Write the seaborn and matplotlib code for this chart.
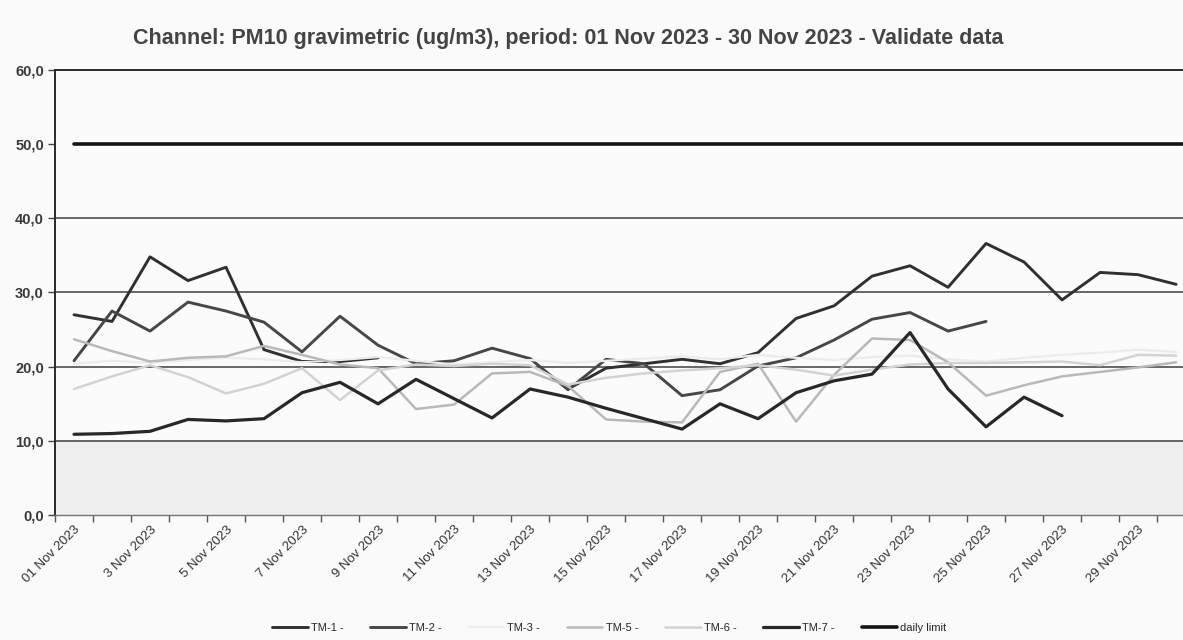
import matplotlib
matplotlib.use("Agg")
import matplotlib.pyplot as plt
import seaborn as sns
import pandas as pd
import numpy as np
from matplotlib.lines import Line2D

nan = np.nan

# one value per day, 01..30 Nov 2023
days = list(range(1, 31))
tm1 = [27.0, 26.1, 34.8, 31.6, 33.4, 22.3, 20.7, 20.7, 21.2, nan,
       nan, nan, nan, 17.0, 19.8, 20.4, 21.0, 20.4, 21.9, 26.5,
       28.2, 32.2, 33.6, 30.7, 36.6, 34.1, 29.0, 32.7, 32.4, 31.1]
tm2 = [20.8, 27.5, 24.8, 28.7, 27.5, 26.0, 22.0, 26.8, 22.9, 20.4,
       20.8, 22.5, 21.1, 16.9, 21.0, 20.4, 16.1, 16.9, 20.1, 21.2,
       23.6, 26.4, 27.3, 24.8, 26.1, nan, nan, nan, nan, nan]
tm3 = [20.4, 20.8, 20.5, 20.9, 21.2, 21.0, 20.6, 20.9, 21.3, 20.8,
       20.3, 20.6, 20.9, 20.5, 20.8, 21.1, 21.4, 21.0, 21.6, 21.2,
       20.9, 21.3, 21.5, 21.0, 20.7, 21.2, 21.6, 21.9, 22.3, 22.0]
tm5 = [23.7, 22.1, 20.7, 21.2, 21.4, 22.8, 21.6, 20.3, 19.8, 14.3,
       14.9, 19.1, 19.3, 17.4, 12.9, 12.6, 12.5, 19.3, 20.4, 12.6,
       18.9, 23.8, 23.6, 20.6, 16.1, 17.5, 18.7, 19.3, 19.9, 20.6]
tm6 = [17.0, 18.7, 20.2, 18.6, 16.4, 17.7, 19.8, 15.5, 19.5, 20.3,
       20.1, 20.4, 20.2, 17.6, 18.5, 19.1, 19.5, 19.8, 20.2, 19.6,
       18.8, 19.6, 20.3, 20.5, 20.5, 20.6, 20.7, 20.2, 21.6, 21.5]
tm7 = [10.9, 11.0, 11.3, 12.9, 12.7, 13.0, 16.5, 17.9, 15.0, 18.3,
       15.7, 13.1, 17.0, 15.9, 14.4, 13.0, 11.6, 15.0, 13.0, 16.5,
       18.1, 19.0, 24.6, 17.0, 11.9, 15.9, 13.4, nan, nan, nan]
daily_limit = 50.0

tick_labels = ["01 Nov 2023", "3 Nov 2023", "5 Nov 2023", "7 Nov 2023",
               "9 Nov 2023", "11 Nov 2023", "13 Nov 2023", "15 Nov 2023",
               "17 Nov 2023", "19 Nov 2023", "21 Nov 2023", "23 Nov 2023",
               "25 Nov 2023", "27 Nov 2023", "29 Nov 2023"]

series = [
    ("TM-1 -", tm1, "#303030", 2.1),
    ("TM-2 -", tm2, "#474747", 2.1),
    ("TM-3 -", tm3, "#ececec", 1.6),
    ("TM-5 -", tm5, "#b9b9b9", 1.8),
    ("TM-6 -", tm6, "#d3d3d3", 1.8),
    ("TM-7 -", tm7, "#282828", 2.3),
]

sns.set_theme(style="white")
plt.rcParams["font.family"] = ["Liberation Sans", "DejaVu Sans"]

fig = plt.figure(figsize=(11.83, 6.4), dpi=100)
fig.patch.set_facecolor("#fafafa")
ax = fig.add_axes([0.0465, 0.195, 0.9637, 0.696])
ax.set_facecolor("#fbfbfb")

x = np.arange(len(days))


def draw_series(ax, vals, color, lw, z):
    # split at missing days so the gaps stay open
    s = pd.Series(vals, index=x, dtype=float)
    run_id = s.isna().cumsum()
    for _, seg in s[s.notna()].groupby(run_id[s.notna()]):
        if len(seg) > 1:
            sns.lineplot(x=seg.index.values, y=seg.values, color=color,
                         lw=lw, ax=ax, legend=False, zorder=z)


# light band under 10 like the scan
ax.axhspan(0, 10, color="#efefef", zorder=0)
for g in [10, 20, 30, 40]:
    ax.axhline(g, color="#4d4d4d", lw=1.2, zorder=1)

order = [4, 3, 2, 5, 1, 0]
for i in order:
    name, vals, col, lw = series[i]
    draw_series(ax, vals, col, lw, 3 + i)

# limit runs from the first day out past the right edge
limit_x = np.append(x, len(days))
sns.lineplot(x=limit_x, y=[daily_limit] * len(limit_x), color="#151515", lw=2.6,
             ax=ax, legend=False, zorder=10)

ax.set_xlim(-0.5, len(days) - 0.5)
ax.set_ylim(0, 60)
ax.set_yticks([0, 10, 20, 30, 40, 50, 60])
ax.set_yticklabels([f"{v:.1f}".replace(".", ",") for v in [0, 10, 20, 30, 40, 50, 60]],
                   fontsize=10.5, fontweight="bold", color="#3a3a3a")

ax.set_xticks(np.arange(-0.5, len(days), 1.0), minor=True)
ax.set_xticks(x[::2])
ax.set_xticklabels(tick_labels, rotation=45, ha="right", rotation_mode="anchor",
                   fontsize=9.5, color="#333333")
ax.tick_params(axis="x", which="major", length=0, pad=6)
ax.tick_params(axis="x", which="minor", length=5, width=1, color="#555555",
               direction="out", bottom=True)
ax.tick_params(axis="y", length=5, width=1, color="#444444", direction="out",
               left=True, pad=3)
ax.set_xlabel("")
ax.set_ylabel("")

for side in ["left", "top"]:
    ax.spines[side].set_color("#2a2a2a")
    ax.spines[side].set_linewidth(1.4)
ax.spines["bottom"].set_color("#777777")
ax.spines["bottom"].set_linewidth(1.0)
ax.spines["right"].set_visible(False)

fig.text(0.48, 0.94,
         "Channel: PM10 gravimetric (ug/m3), period: 01 Nov 2023 - 30 Nov 2023 - Validate data",
         ha="center", va="center", fontsize=15.5, fontweight="bold", color="#444444")

handles = [Line2D([], [], color=c, lw=lw) for _, _, c, lw in series]
handles.append(Line2D([], [], color="#151515", lw=2.6))
labels = [s[0] for s in series] + ["daily limit"]
fig.legend(handles, labels, loc="lower center", bbox_to_anchor=(0.515, -0.005),
           ncol=7, frameon=False, fontsize=8, handlelength=3.2,
           handletextpad=0.3, columnspacing=2.4)

fig.savefig("out.png", dpi=100, facecolor=fig.get_facecolor())
